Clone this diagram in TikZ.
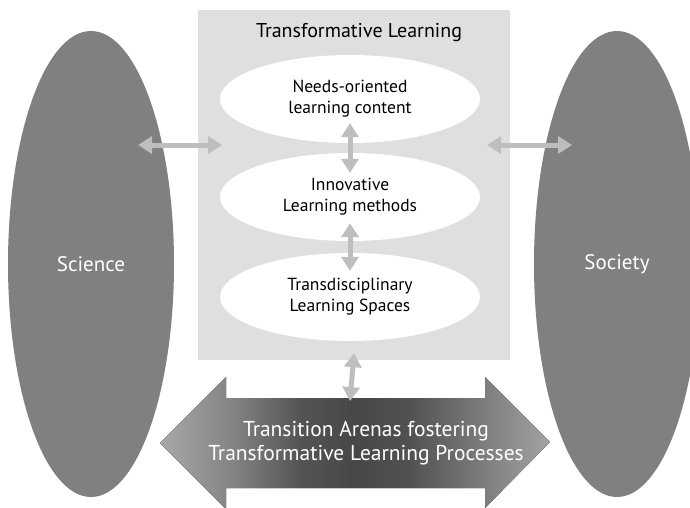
\documentclass[tikz,border=0pt]{standalone}
\usepackage{fontspec}
\setmainfont{PT Sans}
\usetikzlibrary{shapes.geometric,arrows.meta,positioning}
\definecolor{boxgray}{HTML}{DFDFDF}
\definecolor{ovalgray}{HTML}{808080}
\definecolor{arrgray}{HTML}{BEBEBE}
\pgfdeclarehorizontalshading{arenashade}{100bp}{color(0bp)=(black!34); color(25bp)=(black!34);
    color(34bp)=(black!48); color(43bp)=(black!67); color(50bp)=(black!72);
    color(57bp)=(black!68); color(66bp)=(black!52); color(75bp)=(black!36); color(100bp)=(black!36)}

\begin{document}
\begin{tikzpicture}[x=1pt, y=-1pt,
    sideoval/.style={ellipse, fill=ovalgray, minimum width=166pt, minimum height=466pt, inner sep=0pt, text=white, font=\fontsize{21}{24}\selectfont},
    inneroval/.style={ellipse, fill=white, minimum width=260pt, minimum height=88pt, inner sep=0pt, align=center, font=\fontsize{17.5}{21}\selectfont},
    link/.style={arrgray, line width=5pt, {Triangle[length=14pt,width=17pt]}-{Triangle[length=14pt,width=17pt]}}]
    \useasboundingbox (0,0) rectangle (690,507);
    \begin{scope}
        \clip (0,0) rectangle (690,507);
        \node[sideoval] (science) at (91,264) {Science};
        \node[sideoval] (society) at (617,264) {Society};
    \end{scope}

    % transformative learning box
    \node[fill=boxgray, minimum width=312pt, minimum height=350pt, inner sep=0pt] (learnbox) at (354,185) {};
    \node[font=\fontsize{20}{22}\selectfont] (title) at (359,33) {Transformative Learning};

    \coordinate (scil) at (138,145);
    \coordinate (boxl) at (222,145);
    \coordinate (boxr) at (487,145);
    \coordinate (socl) at (572,145);
    \draw[link] (scil) -- (boxl);
    \draw[link] (boxr) -- (socl);

    \node[inneroval] (needs) at (350,99) {Needs-oriented\\learning content};
    \node[inneroval] (methods) at (350,197) {Innovative\\Learning methods};
    \node[inneroval] (spaces) at (350,297) {Transdisciplinary\\Learning Spaces};
    \draw[link] ([yshift=20pt]needs.south) -- ([yshift=-20pt]methods.north);
    \draw[link] ([yshift=18pt]methods.south) -- ([yshift=-18pt]spaces.north);

    % transition arenas
    \begin{scope}
        \clip (0,0) rectangle (690,507);
        \fill[shading=arenashade]
            (160,443) -- (226,377) -- (226,398) -- (485,398) -- (485,377) -- (550,442)
            -- (485,508) -- (485,488) -- (226,488) -- (226,509) -- cycle;
    \end{scope}
    \node[text=white, align=center, font=\fontsize{21.5}{24}\selectfont] (arena) at (366,443) {Transition Arenas fostering\\Transformative Learning Processes};
    \coordinate (arenatop) at (350,401);
    \draw[link] ([yshift=7pt]learnbox.south) -- (arenatop);
\end{tikzpicture}
\end{document}
